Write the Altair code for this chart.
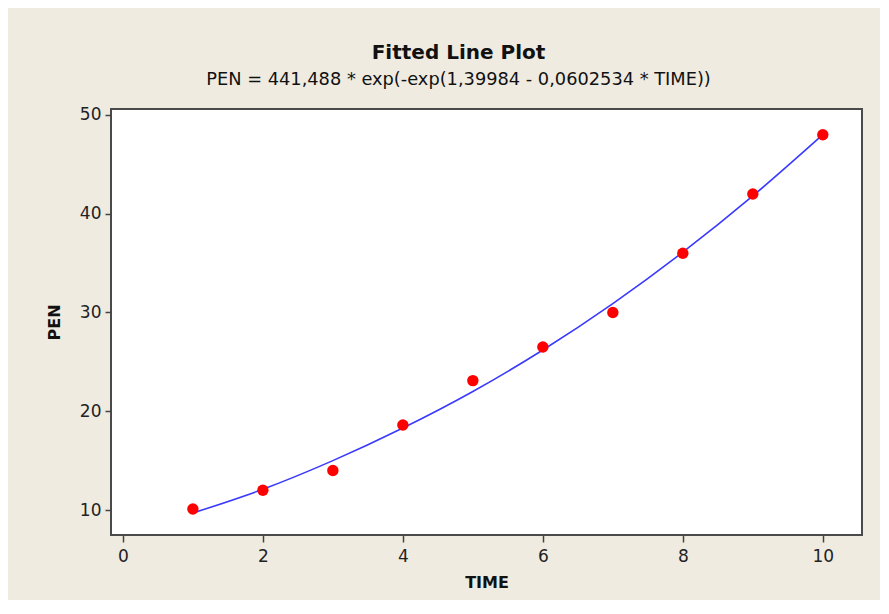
import altair as alt
import pandas as pd

# Observed data
time = [1, 2, 3, 4, 5, 6, 7, 8, 9, 10]
pen = [10.1, 12.0, 14.0, 18.6, 23.1, 26.5, 30.0, 36.0, 42.0, 48.0]

# Fitted curve values
fit_time = [1, 2, 3, 4, 5, 6, 7, 8, 9, 10]
fit_pen = [9.7, 12.1, 15.0, 18.3, 22.0, 26.2, 30.9, 36.1, 41.8, 48.0]

x_ticks = [0, 2, 4, 6, 8, 10]
y_ticks = [10, 20, 30, 40, 50]

pts = pd.DataFrame({"TIME": time, "PEN": pen})
fit = pd.DataFrame({"TIME": fit_time, "PEN": fit_pen})

FONT = "DejaVu Sans"

xscale = alt.Scale(domain=[-0.17, 10.56], nice=False, zero=False)
yscale = alt.Scale(domain=[7.47, 50.6], nice=False, zero=False)

xaxis = alt.Axis(values=x_ticks, format="d", grid=False, domain=False, tickSize=7, tickColor="#444",
                 tickWidth=1.5, labelFontSize=17, labelFont=FONT, labelColor="#222",
                 labelPadding=6, title="TIME", titleFont=FONT, titleFontSize=16,
                 titleFontWeight="bold", titleColor="#111", titlePadding=10)
yaxis = alt.Axis(values=y_ticks, format="d", grid=False, domain=False, tickSize=6, tickColor="#444",
                 tickWidth=1.5, labelFontSize=17, labelFont=FONT, labelColor="#222",
                 labelPadding=4, title="PEN", titleFont=FONT, titleFontSize=16,
                 titleFontWeight="bold", titleColor="#111", titlePadding=17)

line = alt.Chart(fit).mark_line(color="#3a3aff", strokeWidth=1.6, interpolate="monotone").encode(
    x=alt.X("TIME:Q", scale=xscale, axis=xaxis),
    y=alt.Y("PEN:Q", scale=yscale, axis=yaxis),
)
points = alt.Chart(pts).mark_point(filled=True, color="#ff0000", size=130, opacity=1).encode(
    x=alt.X("TIME:Q", scale=xscale),
    y=alt.Y("PEN:Q", scale=yscale),
)

chart = alt.layer(line, points).properties(
    width=751,
    height=426,
    background="#efebe1",
    autosize=alt.AutoSizeParams(type="none"),
    padding={"left": 103, "top": 101, "right": 18, "bottom": 65},
    title=alt.TitleParams(
        text="Fitted Line Plot",
        subtitle="PEN = 441,488 * exp(-exp(1,39984 - 0,0602534 * TIME))",
        font=FONT, fontSize=20, fontWeight="bold", color="#111",
        subtitleFont=FONT, subtitleFontSize=17.8, subtitleColor="#111",
        subtitlePadding=8, anchor="middle", offset=17, dx=-28,
    ),
).configure_view(
    fill="white", stroke="#4a4a4a", strokeWidth=2
)

chart.save("out.html", embed_options={"renderer": "svg", "actions": False})
